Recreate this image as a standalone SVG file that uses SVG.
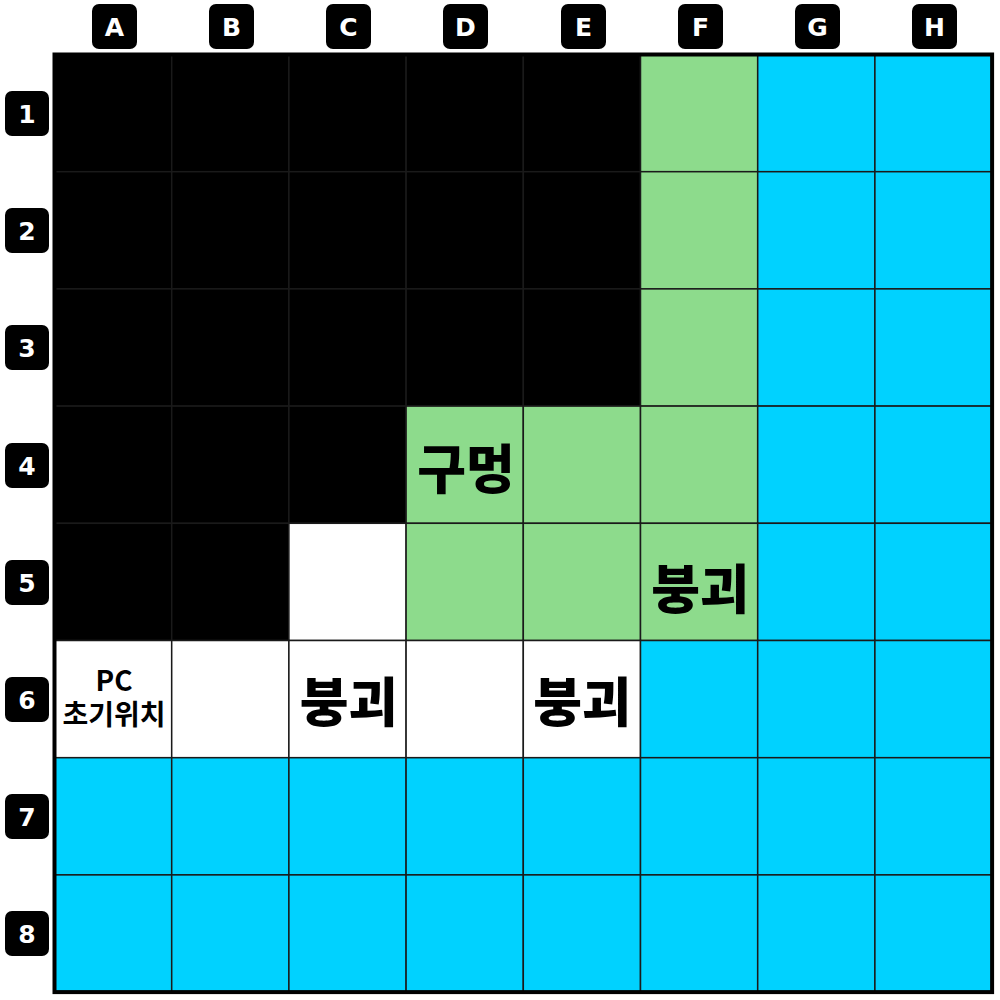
<svg xmlns="http://www.w3.org/2000/svg" width="1000" height="1000" viewBox="0 0 1000 1000">
<style>
.k{fill:#000}
.g{fill:#8DDB8C}
.c{fill:#00D2FF}
.w{fill:#fff}
.cell{stroke:#1a1a1a;stroke-width:1.5}
.badge{fill:#000}
.bl{font-family:"DejaVu Sans","Liberation Sans",sans-serif;font-weight:bold;font-size:25px;fill:#fff;text-anchor:middle;dominant-baseline:central}
.big{font-family:"Noto Sans CJK KR","Noto Sans",sans-serif;font-weight:900;font-size:53px;fill:#000;text-anchor:middle;dominant-baseline:central}
.sm{font-family:"Noto Sans CJK KR","Noto Sans",sans-serif;font-weight:600;font-size:28px;fill:#000;text-anchor:middle}
</style>
<rect x="0" y="0" width="1000" height="1000" fill="#fff"/>
<g id="headers">
<g id="colA"><rect class="badge" x="92" y="4" width="45" height="45" rx="7"/><text class="bl" x="114.5" y="27">A</text></g>
<g id="colB"><rect class="badge" x="209" y="4" width="45" height="45" rx="7"/><text class="bl" x="231.5" y="27">B</text></g>
<g id="colC"><rect class="badge" x="326" y="4" width="45" height="45" rx="7"/><text class="bl" x="348.5" y="27">C</text></g>
<g id="colD"><rect class="badge" x="443" y="4" width="45" height="45" rx="7"/><text class="bl" x="465.5" y="27">D</text></g>
<g id="colE"><rect class="badge" x="561" y="4" width="45" height="45" rx="7"/><text class="bl" x="583.5" y="27">E</text></g>
<g id="colF"><rect class="badge" x="678" y="4" width="45" height="45" rx="7"/><text class="bl" x="700.5" y="27">F</text></g>
<g id="colG"><rect class="badge" x="795" y="4" width="45" height="45" rx="7"/><text class="bl" x="817.5" y="27">G</text></g>
<g id="colH"><rect class="badge" x="912" y="4" width="45" height="45" rx="7"/><text class="bl" x="934.5" y="27">H</text></g>
<g id="row1"><rect class="badge" x="5" y="91" width="44" height="45" rx="7"/><text class="bl" x="27" y="114">1</text></g>
<g id="row2"><rect class="badge" x="5" y="208" width="44" height="45" rx="7"/><text class="bl" x="27" y="231">2</text></g>
<g id="row3"><rect class="badge" x="5" y="325" width="44" height="45" rx="7"/><text class="bl" x="27" y="348">3</text></g>
<g id="row4"><rect class="badge" x="5" y="443" width="44" height="45" rx="7"/><text class="bl" x="27" y="466">4</text></g>
<g id="row5"><rect class="badge" x="5" y="560" width="44" height="45" rx="7"/><text class="bl" x="27" y="583">5</text></g>
<g id="row6"><rect class="badge" x="5" y="677" width="44" height="45" rx="7"/><text class="bl" x="27" y="700">6</text></g>
<g id="row7"><rect class="badge" x="5" y="794" width="44" height="45" rx="7"/><text class="bl" x="27" y="817">7</text></g>
<g id="row8"><rect class="badge" x="5" y="911" width="44" height="45" rx="7"/><text class="bl" x="27" y="934">8</text></g>
</g>
<g id="grid">
<g id="A1"><rect class="cell k" x="54.5" y="54.5" width="117.2" height="117.2"/></g>
<g id="B1"><rect class="cell k" x="171.7" y="54.5" width="117.2" height="117.2"/></g>
<g id="C1"><rect class="cell k" x="288.9" y="54.5" width="117.2" height="117.2"/></g>
<g id="D1"><rect class="cell k" x="406.1" y="54.5" width="117.2" height="117.2"/></g>
<g id="E1"><rect class="cell k" x="523.3" y="54.5" width="117.2" height="117.2"/></g>
<g id="F1"><rect class="cell g" x="640.5" y="54.5" width="117.2" height="117.2"/></g>
<g id="G1"><rect class="cell c" x="757.7" y="54.5" width="117.2" height="117.2"/></g>
<g id="H1"><rect class="cell c" x="874.9" y="54.5" width="117.2" height="117.2"/></g>
<g id="A2"><rect class="cell k" x="54.5" y="171.7" width="117.2" height="117.2"/></g>
<g id="B2"><rect class="cell k" x="171.7" y="171.7" width="117.2" height="117.2"/></g>
<g id="C2"><rect class="cell k" x="288.9" y="171.7" width="117.2" height="117.2"/></g>
<g id="D2"><rect class="cell k" x="406.1" y="171.7" width="117.2" height="117.2"/></g>
<g id="E2"><rect class="cell k" x="523.3" y="171.7" width="117.2" height="117.2"/></g>
<g id="F2"><rect class="cell g" x="640.5" y="171.7" width="117.2" height="117.2"/></g>
<g id="G2"><rect class="cell c" x="757.7" y="171.7" width="117.2" height="117.2"/></g>
<g id="H2"><rect class="cell c" x="874.9" y="171.7" width="117.2" height="117.2"/></g>
<g id="A3"><rect class="cell k" x="54.5" y="288.9" width="117.2" height="117.2"/></g>
<g id="B3"><rect class="cell k" x="171.7" y="288.9" width="117.2" height="117.2"/></g>
<g id="C3"><rect class="cell k" x="288.9" y="288.9" width="117.2" height="117.2"/></g>
<g id="D3"><rect class="cell k" x="406.1" y="288.9" width="117.2" height="117.2"/></g>
<g id="E3"><rect class="cell k" x="523.3" y="288.9" width="117.2" height="117.2"/></g>
<g id="F3"><rect class="cell g" x="640.5" y="288.9" width="117.2" height="117.2"/></g>
<g id="G3"><rect class="cell c" x="757.7" y="288.9" width="117.2" height="117.2"/></g>
<g id="H3"><rect class="cell c" x="874.9" y="288.9" width="117.2" height="117.2"/></g>
<g id="A4"><rect class="cell k" x="54.5" y="406.1" width="117.2" height="117.2"/></g>
<g id="B4"><rect class="cell k" x="171.7" y="406.1" width="117.2" height="117.2"/></g>
<g id="C4"><rect class="cell k" x="288.9" y="406.1" width="117.2" height="117.2"/></g>
<g id="D4"><rect class="cell g" x="406.1" y="406.1" width="117.2" height="117.2"/><text class="big" x="466" y="466">구멍</text></g>
<g id="E4"><rect class="cell g" x="523.3" y="406.1" width="117.2" height="117.2"/></g>
<g id="F4"><rect class="cell g" x="640.5" y="406.1" width="117.2" height="117.2"/></g>
<g id="G4"><rect class="cell c" x="757.7" y="406.1" width="117.2" height="117.2"/></g>
<g id="H4"><rect class="cell c" x="874.9" y="406.1" width="117.2" height="117.2"/></g>
<g id="A5"><rect class="cell k" x="54.5" y="523.3" width="117.2" height="117.2"/></g>
<g id="B5"><rect class="cell k" x="171.7" y="523.3" width="117.2" height="117.2"/></g>
<g id="C5"><rect class="cell w" x="288.9" y="523.3" width="117.2" height="117.2"/></g>
<g id="D5"><rect class="cell g" x="406.1" y="523.3" width="117.2" height="117.2"/></g>
<g id="E5"><rect class="cell g" x="523.3" y="523.3" width="117.2" height="117.2"/></g>
<g id="F5"><rect class="cell g" x="640.5" y="523.3" width="117.2" height="117.2"/><text class="big" x="700" y="586">붕괴</text></g>
<g id="G5"><rect class="cell c" x="757.7" y="523.3" width="117.2" height="117.2"/></g>
<g id="H5"><rect class="cell c" x="874.9" y="523.3" width="117.2" height="117.2"/></g>
<g id="A6"><rect class="cell w" x="54.5" y="640.5" width="117.2" height="117.2"/><text class="sm" x="114" y="691"><tspan x="114" y="691">PC</tspan><tspan x="114" y="725">초기위치</tspan></text></g>
<g id="B6"><rect class="cell w" x="171.7" y="640.5" width="117.2" height="117.2"/></g>
<g id="C6"><rect class="cell w" x="288.9" y="640.5" width="117.2" height="117.2"/><text class="big" x="348.5" y="699">붕괴</text></g>
<g id="D6"><rect class="cell w" x="406.1" y="640.5" width="117.2" height="117.2"/></g>
<g id="E6"><rect class="cell w" x="523.3" y="640.5" width="117.2" height="117.2"/><text class="big" x="582" y="699">붕괴</text></g>
<g id="F6"><rect class="cell c" x="640.5" y="640.5" width="117.2" height="117.2"/></g>
<g id="G6"><rect class="cell c" x="757.7" y="640.5" width="117.2" height="117.2"/></g>
<g id="H6"><rect class="cell c" x="874.9" y="640.5" width="117.2" height="117.2"/></g>
<g id="A7"><rect class="cell c" x="54.5" y="757.7" width="117.2" height="117.2"/></g>
<g id="B7"><rect class="cell c" x="171.7" y="757.7" width="117.2" height="117.2"/></g>
<g id="C7"><rect class="cell c" x="288.9" y="757.7" width="117.2" height="117.2"/></g>
<g id="D7"><rect class="cell c" x="406.1" y="757.7" width="117.2" height="117.2"/></g>
<g id="E7"><rect class="cell c" x="523.3" y="757.7" width="117.2" height="117.2"/></g>
<g id="F7"><rect class="cell c" x="640.5" y="757.7" width="117.2" height="117.2"/></g>
<g id="G7"><rect class="cell c" x="757.7" y="757.7" width="117.2" height="117.2"/></g>
<g id="H7"><rect class="cell c" x="874.9" y="757.7" width="117.2" height="117.2"/></g>
<g id="A8"><rect class="cell c" x="54.5" y="874.9" width="117.2" height="117.2"/></g>
<g id="B8"><rect class="cell c" x="171.7" y="874.9" width="117.2" height="117.2"/></g>
<g id="C8"><rect class="cell c" x="288.9" y="874.9" width="117.2" height="117.2"/></g>
<g id="D8"><rect class="cell c" x="406.1" y="874.9" width="117.2" height="117.2"/></g>
<g id="E8"><rect class="cell c" x="523.3" y="874.9" width="117.2" height="117.2"/></g>
<g id="F8"><rect class="cell c" x="640.5" y="874.9" width="117.2" height="117.2"/></g>
<g id="G8"><rect class="cell c" x="757.7" y="874.9" width="117.2" height="117.2"/></g>
<g id="H8"><rect class="cell c" x="874.9" y="874.9" width="117.2" height="117.2"/></g>
</g>
<g id="border"><rect x="54.5" y="54.5" width="937.6" height="937.6" fill="none" stroke="#000" stroke-width="4"/></g>
<g id="connectors"/>
</svg>
